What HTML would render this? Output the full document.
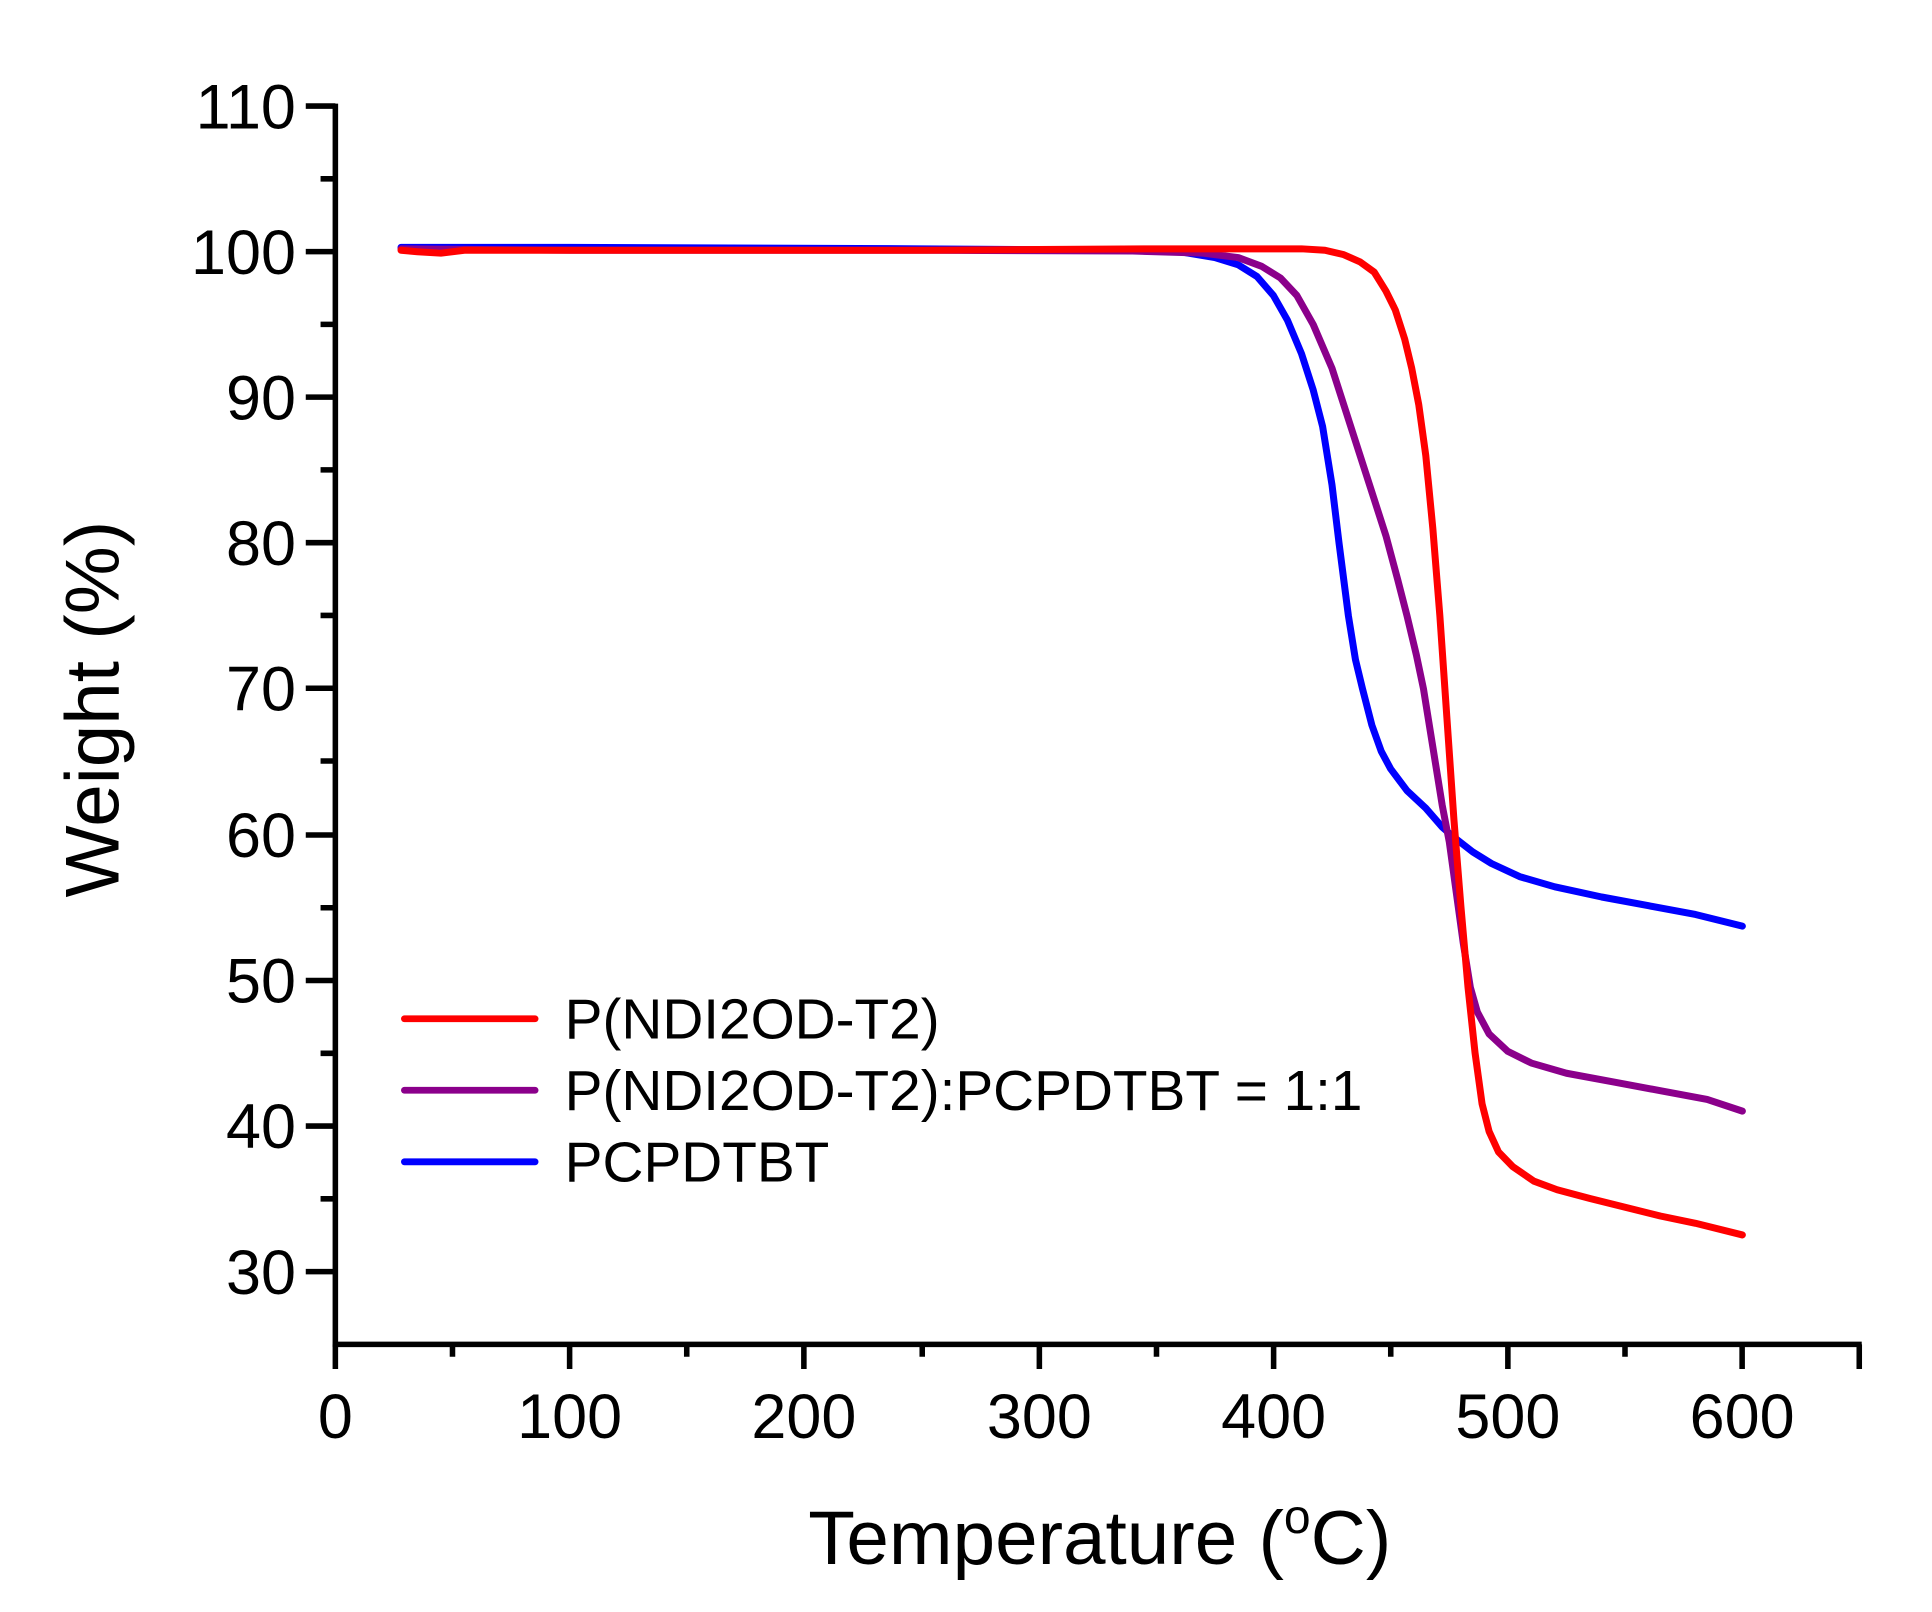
<!DOCTYPE html>
<html><head><style>html,body{margin:0;padding:0;background:#fff;}svg{display:block;}</style></head>
<body>
<svg width="1932" height="1612" viewBox="0 0 1567 1307" preserveAspectRatio="none" xmlns="http://www.w3.org/2000/svg" font-family="Liberation Sans, Arial, sans-serif">
<rect width="1567" height="1307" fill="#fff"/>
<g stroke="#000" stroke-width="4.5" fill="none">
<line x1="272" y1="84" x2="272" y2="1092"/>
<line x1="270" y1="1090" x2="1510" y2="1090"/>
<path d="M248 86H272M248 204H272M248 322H272M248 440H272M248 558H272M248 677H272M248 795H272M248 913H272M248 1031H272"/>
<path d="M260 145H272M260 263H272M260 381H272M260 499H272M260 617H272M260 736H272M260 854H272M260 972H272"/>
<path d="M272 1090V1110M462 1090V1110M652 1090V1110M843 1090V1110M1033 1090V1110M1223 1090V1110M1413 1090V1110"/>
<path d="M367 1090V1100M557 1090V1100M748 1090V1100M938 1090V1100M1128 1090V1100M1318 1090V1100M1508 1090V1110"/>
</g>
<g font-size="51" text-anchor="end" fill="#000">
<text x="240" y="104">110</text><text x="240" y="222">100</text><text x="240" y="340">90</text>
<text x="240" y="458">80</text><text x="240" y="576">70</text><text x="240" y="695">60</text>
<text x="240" y="813">50</text><text x="240" y="931">40</text><text x="240" y="1049">30</text>
</g>
<g font-size="51" text-anchor="middle" fill="#000">
<text x="272" y="1166">0</text><text x="462" y="1166">100</text><text x="652" y="1166">200</text>
<text x="843" y="1166">300</text><text x="1033" y="1166">400</text><text x="1223" y="1166">500</text><text x="1413" y="1166">600</text>
</g>
<text x="892" y="1268" font-size="62" text-anchor="middle">Temperature (<tspan font-size="39" dy="-25">o</tspan><tspan dy="25">C)</tspan></text>
<text transform="translate(96,575) rotate(-90)" font-size="62" text-anchor="middle">Weight (%)</text>
<g fill="none" stroke-width="7" stroke-linejoin="round" stroke-linecap="round" transform="matrix(1.902 0 0 -11.81 272 1385.1)">
<polyline vector-effect="non-scaling-stroke" stroke="#0000ff" points="28,100.3 100,100.3 250,100.2 330,100.1 360,100 375,99.6 385,99.1 393,98.3 400,97 406,95.3 412,93 417,90.5 421,88 425,84 428,80 432,75 435,72 438,70 442,67.5 446,65.7 450,64.5 457,63 465,61.8 472,60.5 477,59.8 485,58.8 493,58 505,57.1 520,56.4 540,55.7 560,55.1 580,54.5 600,53.7"/>
<polyline vector-effect="non-scaling-stroke" stroke="#8b008b" points="28,100.2 100,100.1 250,100.1 340,100.05 370,99.9 385,99.6 395,99 403,98.2 410,97 417,95 425,92 431,89 437,86 443,83 448,80.5 453,77.5 457,75 461,72.3 464,70 468,66 472,62 475,59.5 478,56 481,52.5 484,49.5 487,47.8 492,46.3 500,45.1 510,44.3 525,43.6 545,43 565,42.4 585,41.8 600,41"/>
<polyline vector-effect="non-scaling-stroke" stroke="#ff0000" points="28,100.1 35,100 45,99.9 55,100.1 100,100.1 250,100.1 350,100.2 412,100.2 422,100.1 430,99.8 437,99.3 443,98.6 448,97.3 452,96 456,94 459,92 462,89.5 465,86 468,81 471,75 474,68 477,61 480,55 483,49.5 486,45 489,41.5 492,39.6 496,38.2 502,37.2 511,36.2 521,35.6 535,35 550,34.4 565,33.8 580,33.3 600,32.5"/>
</g>
<g stroke-width="5.5" stroke-linecap="round">
<line x1="328" y1="826" x2="434" y2="826" stroke="#ff0000"/>
<line x1="328" y1="884" x2="434" y2="884" stroke="#8b008b"/>
<line x1="328" y1="942" x2="434" y2="942" stroke="#0000ff"/>
</g>
<g font-size="46" fill="#000">
<text x="458" y="842">P(NDI2OD-T2)</text>
<text x="458" y="900">P(NDI2OD-T2):PCPDTBT = 1:1</text>
<text x="458" y="958">PCPDTBT</text>
</g>
</svg>
</body></html>
